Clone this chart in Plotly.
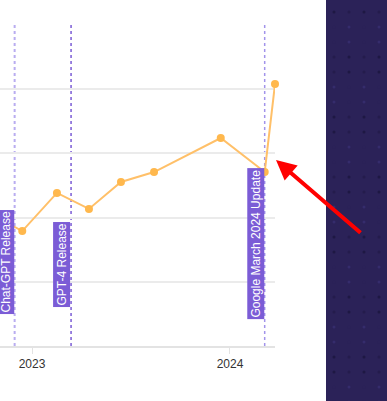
import plotly.graph_objects as go

# ---- data ----
dates = ["2022-10-15", "2022-12-14", "2023-02-16", "2023-04-16", "2023-06-14",
         "2023-08-14", "2023-12-15", "2024-03-05", "2024-03-24"]
values = [41.4, 35.8, 47.7, 42.7, 51.1, 54.2, 64.8, 54.2, 81.6]

event_dates = ["2022-11-30", "2023-03-14", "2024-03-05"]
event_labels = ["Chat-GPT Release", "GPT-4 Release", "Google March 2024 Update"]
event_label_y = [0.262, 0.254, 0.318]
event_line_colors = ["#B9ADF0", "#7B5CD6", "#A294EA"]
event_line_widths = [2, 1.5, 1.5]

W, H = 387, 401
ML, MR, MT, MB = 0, 112, 25, 55
PW, PH = W - ML - MR, H - MT - MB

fig = go.Figure()
fig.add_trace(go.Scatter(
    x=dates, y=values, mode="lines+markers",
    line=dict(color="#FFC069", width=2),
    marker=dict(color="#FFB84D", size=8),
    cliponaxis=False, showlegend=False, hoverinfo="skip"))

shapes = []
# dark side panel
shapes.append(dict(type="rect", xref="paper", yref="paper",
                   x0=(326 - ML) / PW, x1=(W + 5 - ML) / PW,
                   y0=-(MB + 5) / PH, y1=1 + (MT + 5) / PH,
                   fillcolor="#2B2258", line=dict(width=0), layer="above"))
# dotted pattern on panel
dot_cols = ["#1E1843", "#352C6C", "#241C4C", "#2B2258"]
for row in range(27):
    py = 12 + row * 15
    for col in range(4):
        px = 334 + col * 15
        c = dot_cols[(row * 3 + col * 2 + row // 2) % 4]
        x0 = (px - 1.5 - ML) / PW
        x1 = (px + 1.5 - ML) / PW
        y0 = (H - MB - (py + 1.5)) / PH
        y1 = (H - MB - (py - 1.5)) / PH
        shapes.append(dict(type="circle", xref="paper", yref="paper",
                           x0=x0, x1=x1, y0=y0, y1=y1,
                           fillcolor=c, line=dict(width=0), layer="above"))

annotations = []
for d, lab, ly, lc, lw in zip(event_dates, event_labels, event_label_y,
                               event_line_colors, event_line_widths):
    shapes.append(dict(type="line", xref="x", yref="paper", x0=d, x1=d,
                       y0=0, y1=1, line=dict(color=lc, width=lw, dash="dot"),
                       layer="below"))
    annotations.append(dict(x=d, xref="x", y=ly, yref="paper", text=lab,
                            textangle=-90, showarrow=False, xanchor="right",
                            yanchor="middle", bgcolor="#7B5CD6",
                            font=dict(color="white", size=12,
                                      family="Liberation Sans, Arial"),
                            borderpad=1))

# red arrow
annotations.append(dict(x=(276 - ML) / PW, y=(H - MB - 160) / PH,
                        xref="paper", yref="paper", text="",
                        showarrow=True, arrowhead=2, arrowsize=1,
                        arrowwidth=4, arrowcolor="#FF0000",
                        ax=86, ay=74, standoff=0))

fig.update_layout(
    width=W, height=H,
    margin=dict(l=ML, r=MR, t=MT, b=MB, autoexpand=False),
    paper_bgcolor="white", plot_bgcolor="white",
    shapes=shapes, annotations=annotations,
    xaxis=dict(type="date", range=["2022-11-03", "2024-03-24"],
               tickvals=["2023-01-01", "2024-01-01"], ticktext=["2023", "2024"],
               showgrid=False, showline=True, linecolor="#E3E3E3", linewidth=2,
               ticks="outside", ticklen=6, tickcolor="#E3E3E3",
               tickfont=dict(size=12, color="#333333",
                             family="Liberation Sans, Arial")),
    yaxis=dict(range=[0, 100], dtick=20, showticklabels=False,
               gridcolor="#EBEBEB", gridwidth=1.5, zeroline=False),
)

fig.write_html("out.html", config={"displayModeBar": False},
               post_script="document.body.style.margin='0';document.body.style.overflow='hidden';")
